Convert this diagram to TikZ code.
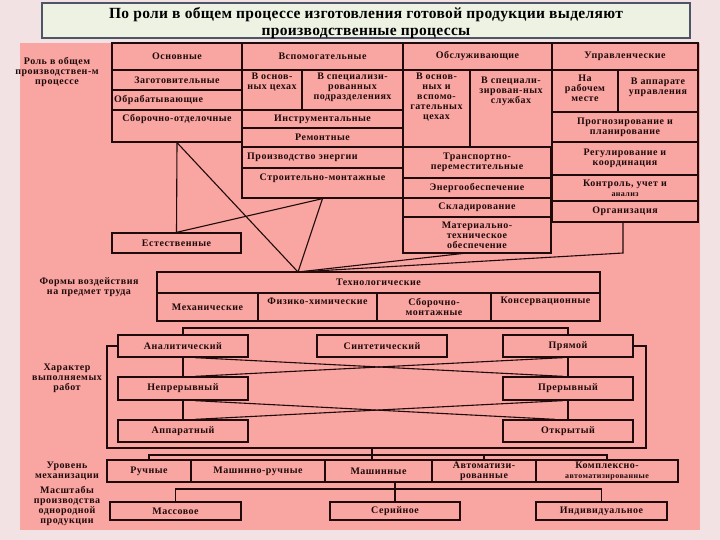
\documentclass[tikz,border=0pt]{standalone}
\usepackage{fontspec}
\setmainfont{Liberation Serif}
\newfontfamily\cf[LetterSpace=5]{Liberation Serif}
\newfontfamily\tf[LetterSpace=2]{Liberation Serif}
\usetikzlibrary{calc}
\definecolor{pagebg}{HTML}{F2E2E4}
\definecolor{panel}{HTML}{F9A5A1}
\definecolor{titlebg}{HTML}{EEF2E3}
\definecolor{titlebd}{HTML}{4E5566}
\definecolor{ink}{HTML}{1F0B0B}
\newcommand\cellfont{\cf\bfseries\fontsize{10}{10}\selectfont}
\tikzset{
  cell/.style={draw=ink, line width=1.3pt, fill=panel, inner sep=1pt, align=center, font=\cellfont, text=ink},
  txt/.style={inner sep=0pt, align=center, font=\cellfont, text=ink},
  conn/.style={draw=ink, line width=1.1pt},
}
\newcommand\cellbox[6][]{%
  \pgfmathsetmacro\bxw{#5-#3}\pgfmathsetmacro\bxh{#6-#4}%
  \pgfmathsetmacro\bxx{(#3+#5)/2}\pgfmathsetmacro\bxy{(#4+#6)/2}%
  \node[cell,minimum width=\bxw pt,minimum height=\bxh pt,#1] (#2) at (\bxx,\bxy)}
\begin{document}
\begin{tikzpicture}[x=1pt,y=-1pt]
\useasboundingbox (0,0) rectangle (720,540);
\fill[pagebg] (0,0) rectangle (720,540);
\fill[panel] (20,43) rectangle (700,530);
% title
\node[draw=titlebd, line width=1.6pt, fill=titlebg, minimum width=648pt, minimum height=35pt, inner sep=0pt]
  (title) at (366,20.5) {};
\node[align=center, font=\tf\bfseries\fontsize{15.5}{17.5}\selectfont, text=black, inner sep=0pt]
  (title-t) at (366,23) {По роли в общем процессе изготовления готовой продукции выделяют\\производственные процессы};
% left labels
\node[txt] (lab1) at (57,72) {Роль в общем\\производствен-м\\процессе};
\node[txt] (lab2) at (89,287) {Формы воздействия\\на предмет труда};
\node[txt] (lab3) at (67,378) {Характер\\выполняемых\\работ};
\node[txt] (lab4) at (67,471) {Уровень\\механизации};
\node[txt] (lab5) at (67,506) {Масштабы\\производства\\однородной\\продукции};
% top grid
\cellbox{hOsn}{112}{43}{242}{70}{Основные};
\cellbox{hVsp}{242}{43}{403}{70}{Вспомогательные};
\cellbox{hObs}{403}{43}{552}{70}{Обслуживающие};
\cellbox{hUpr}{552}{43}{698}{70}{Управленческие};
\cellbox{zag}{112}{70}{242}{90}{Заготовительные};
\cellbox{obr}{112}{90}{242}{110}{};
\node[txt,anchor=west] (obr-t) at (114,100) {Обрабатывающие};
\cellbox{sbor}{112}{110}{242}{142}{};
\node[txt] (sbor-t) at (177,119) {Сборочно-отделочные};
\cellbox{vOsn}{242}{70}{302}{110}{};
\node[txt] (vOsn-t) at (272,82.5) {В основ-\\ных цехах};
\cellbox{vSpec}{302}{70}{403}{110}{};
\node[txt] (vSpec-t) at (352.5,87) {В специализи-\\рованных\\подразделениях};
\cellbox{instr}{242}{110}{403}{128}{Инструментальные};
\cellbox{rem}{242}{128}{403}{147}{Ремонтные};
\cellbox{energ}{242}{147}{403}{168}{};
\node[txt,anchor=west] (energ-t) at (247,157.5) {Производство энергии};
\cellbox{stroi}{242}{168}{403}{198}{};
\node[txt] (stroi-t) at (322.5,178) {Строительно-монтажные};
\cellbox{oOsn}{403}{70}{470}{147}{};
\node[txt] (oOsn-t) at (436.5,97.5) {В основ-\\ных и\\вспомо-\\гательных\\цехах};
\cellbox{oSpec}{470}{70}{552}{147}{};
\node[txt] (oSpec-t) at (511,91) {В специали-\\зирован-ных\\службах};
\cellbox{trans}{403}{147}{551}{178}{Транспортно-\\переместительные};
\cellbox{enob}{403}{178}{551}{198}{Энергообеспечение};
\cellbox{sklad}{403}{198}{551}{217}{Складирование};
\cellbox{mat}{403}{217}{551}{253}{Материально-\\техническое\\обеспечение};
\cellbox{uRab}{552}{70}{618}{112}{};
\node[txt] (uRab-t) at (585,88) {На\\рабочем\\месте};
\cellbox{uApp}{618}{70}{698}{112}{};
\node[txt] (uApp-t) at (658,87) {В аппарате\\управления};
\cellbox{prog}{552}{112}{698}{142}{Прогнозирование и\\планирование};
\cellbox{reg}{552}{142}{698}{175}{Регулирование и\\координация};
\cellbox{kontr}{552}{175}{698}{201}{Контроль, учет и\\{\fontsize{8}{8}\selectfont анализ}};
\cellbox{org}{552}{201}{698}{222}{Организация};
\cellbox{estest}{112}{233}{241}{253}{Естественные};
% technological
\cellbox{tech}{157}{272}{600}{293}{Технологические};
\cellbox{mech}{157}{293}{258}{321}{Механические};
\cellbox{fiz}{258}{293}{377}{321}{};
\node[txt] (fiz-t) at (317.5,301) {Физико-химические};
\cellbox{smont}{377}{293}{491}{321}{Сборочно-\\монтажные};
\cellbox{kons}{491}{293}{600}{321}{};
\node[txt] (kons-t) at (545.5,301) {Консервационные};
% character of work
\cellbox{anal}{118}{335}{248}{357}{Аналитический};
\cellbox{sint}{317}{335}{447}{357}{Синтетический};
\cellbox{pryam}{503}{335}{633}{357}{Прямой};
\cellbox{nepr}{118}{377}{248}{400}{Непрерывный};
\cellbox{prer}{503}{377}{633}{400}{Прерывный};
\cellbox{app}{118}{420}{248}{442}{Аппаратный};
\cellbox{otkr}{503}{420}{633}{442}{Открытый};
% mechanization
\cellbox{ruch}{107}{460}{191}{482}{Ручные};
\cellbox{mashr}{191}{460}{325}{482}{Машинно-ручные};
\cellbox{mash}{325}{460}{432}{482}{Машинные};
\cellbox{avt}{432}{460}{536}{482}{Автоматизи-\\рованные};
\cellbox{kompl}{536}{460}{678}{482}{Комплексно-\\{\fontsize{8}{8}\selectfont автоматизированные}};
% scale
\cellbox{mass}{110}{502}{241}{520}{Массовое};
\cellbox{ser}{330}{502}{460}{520}{Серийное};
\cellbox{ind}{536}{502}{667}{520}{Индивидуальное};
% connectors, top part
\coordinate (conv) at (298,272);
\coordinate (matB) at (467,253);
\coordinate (orgB) at (623,253);
\draw[conn] (sbor.south) -- (estest.north);
\draw[conn] (sbor.south) -- (conv);
\draw[conn] (stroi.south) -- (conv);
\draw[conn] (stroi.south) -- (estest.north);
\draw[conn] (matB) -- (conv);
\draw[conn] (orgB |- org.south) -- (orgB) -- (conv);
% bracket below technological
\coordinate (hb) at (0,328);
\draw[conn] ($(smont.south west)+(4,0)$) -- ($(smont.south west)+(4,0)$ |- hb);
\draw[conn] (anal.north) -- (anal.north |- hb) -- (pryam.north |- hb) -- (pryam.north);
\draw[conn] (anal.south) -- (nepr.north);
\draw[conn] (nepr.south) -- (app.north);
\draw[conn] (pryam.south) -- (prer.north);
\draw[conn] (prer.south) -- (otkr.north);
\draw[conn] ($(anal.south)+(12,0)$) -- ($(prer.north)+(-5,0)$);
\draw[conn] ($(nepr.north)+(12,0)$) -- ($(pryam.south)+(-5,0)$);
\draw[conn] ($(nepr.south)+(12,0)$) -- ($(otkr.north)+(-13,0)$);
\draw[conn] ($(app.north)+(12,0)$) -- ($(prer.south)+(-5,0)$);
% frame
\coordinate (frBL) at (107,448);
\coordinate (frBR) at (646,448);
\draw[conn] (anal.west) -| (frBL) -- (frBR) |- (pryam.east);
% mechanization bracket
\coordinate (mjoin) at (372,448);
\coordinate (mh) at (0,455);
\draw[conn] (ruch.north) -- (ruch.north |- mh) -- (kompl.north |- mh) -- (kompl.north);
\draw[conn] (mjoin) -- (mjoin |- mash.north);
\draw[conn] (avt.north) -- (avt.north |- mh);
\draw[conn] ($(mashr.north)+(12,0)$) -- ($(mashr.north)+(12,0)$ |- mh);
% scale bracket
\coordinate (sh) at (0,489);
\draw[conn] (ser.north) -- (ser.north |- mash.south);
\draw[conn] (mass.north) -- (mass.north |- sh) -- (ind.north |- sh) -- (ind.north);
\end{tikzpicture}
\end{document}
